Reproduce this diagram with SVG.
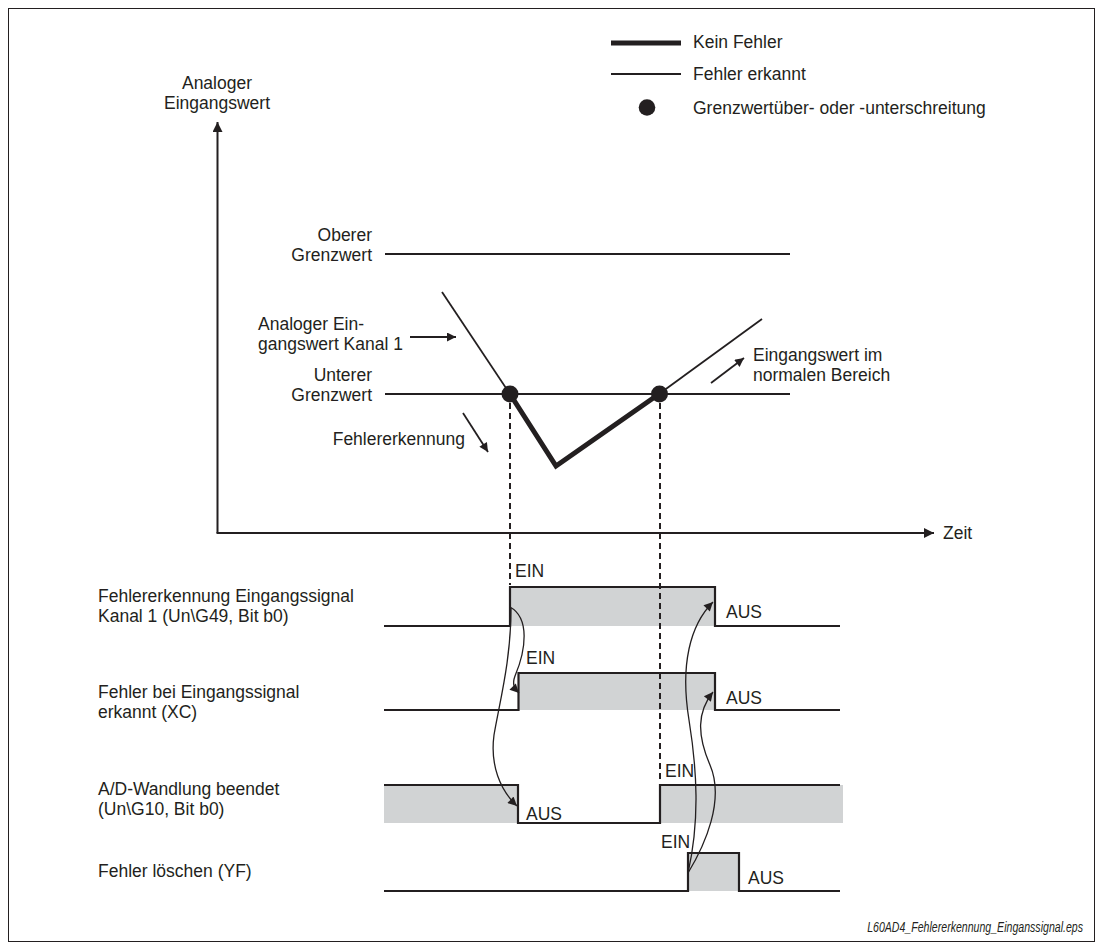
<svg xmlns="http://www.w3.org/2000/svg" width="1103" height="951" viewBox="0 0 1103 951">
<style>
text{font-family:"Liberation Sans",Arial,sans-serif;font-size:17.5px;fill:#231f20}
.ln{fill:none;stroke:#231f20;stroke-width:2}
.thin{fill:none;stroke:#231f20;stroke-width:1.8}
.thick{fill:none;stroke:#231f20;stroke-width:5;stroke-linejoin:miter}
.dash{fill:none;stroke:#231f20;stroke-width:2;stroke-dasharray:6,4}
.sig{fill:none;stroke:#231f20;stroke-width:2.2}
.gray{fill:#d1d3d4;stroke:none}
.cur{fill:none;stroke:#231f20;stroke-width:1.3}
.r{text-anchor:end}
.m{text-anchor:middle}
</style>
<defs>
<marker id="ah" viewBox="0 0 10 10" refX="10" refY="5" markerUnits="userSpaceOnUse" markerWidth="13" markerHeight="10" orient="auto"><path d="M0,0 L10,5 L0,10 z" fill="#231f20"/></marker>
<marker id="ahs" viewBox="0 0 10 10" refX="10" refY="5" markerUnits="userSpaceOnUse" markerWidth="12" markerHeight="9" orient="auto"><path d="M0,0 L10,5 L0,10 z" fill="#231f20"/></marker>
</defs>
<rect x="8.5" y="8.5" width="1086" height="933" fill="#fff" stroke="#231f20" stroke-width="1"/>

<g id="legend">
<line x1="611" y1="43" x2="681" y2="43" stroke="#231f20" stroke-width="5"/>
<text x="693" y="48">Kein Fehler</text>
<line x1="611" y1="74" x2="681" y2="74" stroke="#231f20" stroke-width="2"/>
<text x="693" y="80">Fehler erkannt</text>
<circle cx="647" cy="107.5" r="8.3" fill="#231f20"/>
<text x="693" y="114">Grenzwertüber- oder -unterschreitung</text>
</g>

<g id="axes">
<line class="ln" x1="217.5" y1="533" x2="217.5" y2="122" marker-end="url(#ah)"/>
<line class="ln" x1="216.5" y1="533" x2="934" y2="533" marker-end="url(#ah)"/>
<text class="m" x="217" y="89">Analoger</text>
<text class="m" x="217" y="109">Eingangswert</text>
<text x="943" y="539">Zeit</text>
</g>

<g id="limits">
<line class="ln" x1="385" y1="254" x2="790" y2="254"/>
<text class="r" x="372" y="241">Oberer</text>
<text class="r" x="372" y="261">Grenzwert</text>
<line class="ln" x1="385" y1="394" x2="790" y2="394"/>
<text class="r" x="372" y="381">Unterer</text>
<text class="r" x="372" y="401">Grenzwert</text>
</g>

<g id="analog-signal">
<polyline class="thin" points="442,292 510,394"/>
<polyline class="thin" points="659,394 762,319"/>
<polyline class="thick" points="510,394 556,466 659,394"/>
<circle cx="510" cy="394" r="8.5" fill="#231f20"/>
<circle cx="659.5" cy="394" r="8.5" fill="#231f20"/>
</g>

<g id="annotations">
<text x="258" y="330">Analoger Ein-</text>
<text x="258" y="350">gangswert Kanal 1</text>
<line class="thin" x1="410" y1="337" x2="456" y2="337" marker-end="url(#ahs)"/>
<text class="r" x="465" y="445">Fehlererkennung</text>
<line class="thin" x1="463" y1="413" x2="488" y2="452" marker-end="url(#ahs)"/>
<text x="753" y="361">Eingangswert im</text>
<text x="753" y="381">normalen Bereich</text>
<line class="thin" x1="711" y1="383" x2="744" y2="358" marker-end="url(#ahs)"/>
</g>

<g id="signal1">
<rect class="gray" x="510" y="587" width="205" height="39"/>
<path class="sig" d="M384,626 H510 V587 H715 V626 H840"/>
<text x="98" y="602">Fehlererkennung Eingangssignal</text>
<text x="98" y="622">Kanal 1 (Un\G49, Bit b0)</text>
<text x="515" y="577">EIN</text>
<text x="726" y="618">AUS</text>
</g>

<g id="signal2">
<rect class="gray" x="518.5" y="673" width="196.5" height="37"/>
<path class="sig" d="M384,710 H518.5 V673 H715 V710 H840"/>
<text x="98" y="698">Fehler bei Eingangssignal</text>
<text x="98" y="718">erkannt (XC)</text>
<text x="526" y="664">EIN</text>
<text x="726" y="704">AUS</text>
</g>

<g id="signal3">
<rect class="gray" x="384" y="785" width="134" height="38"/>
<rect class="gray" x="660" y="785" width="183" height="38"/>
<path class="sig" d="M384,785 H518 V823 H660 V785 H840"/>
<text x="98" y="795">A/D-Wandlung beendet</text>
<text x="98" y="815">(Un\G10, Bit b0)</text>
<text x="526" y="820">AUS</text>
<text x="665" y="777">EIN</text>
</g>

<g id="signal4">
<rect class="gray" x="688" y="853" width="51" height="38"/>
<path class="sig" d="M384,891 H688 V853 H739 V891 H840"/>
<text x="98" y="877">Fehler löschen (YF)</text>
<text x="661" y="848">EIN</text>
<text x="748" y="884">AUS</text>
</g>

<g id="connectors">
<line class="dash" x1="510" y1="403" x2="510" y2="585"/>
<line class="dash" x1="660" y1="403" x2="660" y2="783"/>
<path class="cur" d="M510,607 C530,618 526,650 515,676 C512,684 514,688 519,693" marker-end="url(#ahs)"/>
<path class="cur" d="M511,608 C511,660 500,700 494,735 C490,765 500,790 517,806" marker-end="url(#ahs)"/>
<path class="cur" d="M688,873 C700,820 697,770 689,720 C680,665 690,625 713,602" marker-end="url(#ahs)"/>
<path class="cur" d="M688,873 C705,845 725,800 710,765 C697,735 697,712 713,692" marker-end="url(#ahs)"/>
</g>

<text class="r" transform="translate(1083,932) scale(0.73,1)" x="0" y="0" style="font-size:14.5px;font-style:italic">L60AD4_Fehlererkennung_Einganssignal.eps</text>
</svg>
